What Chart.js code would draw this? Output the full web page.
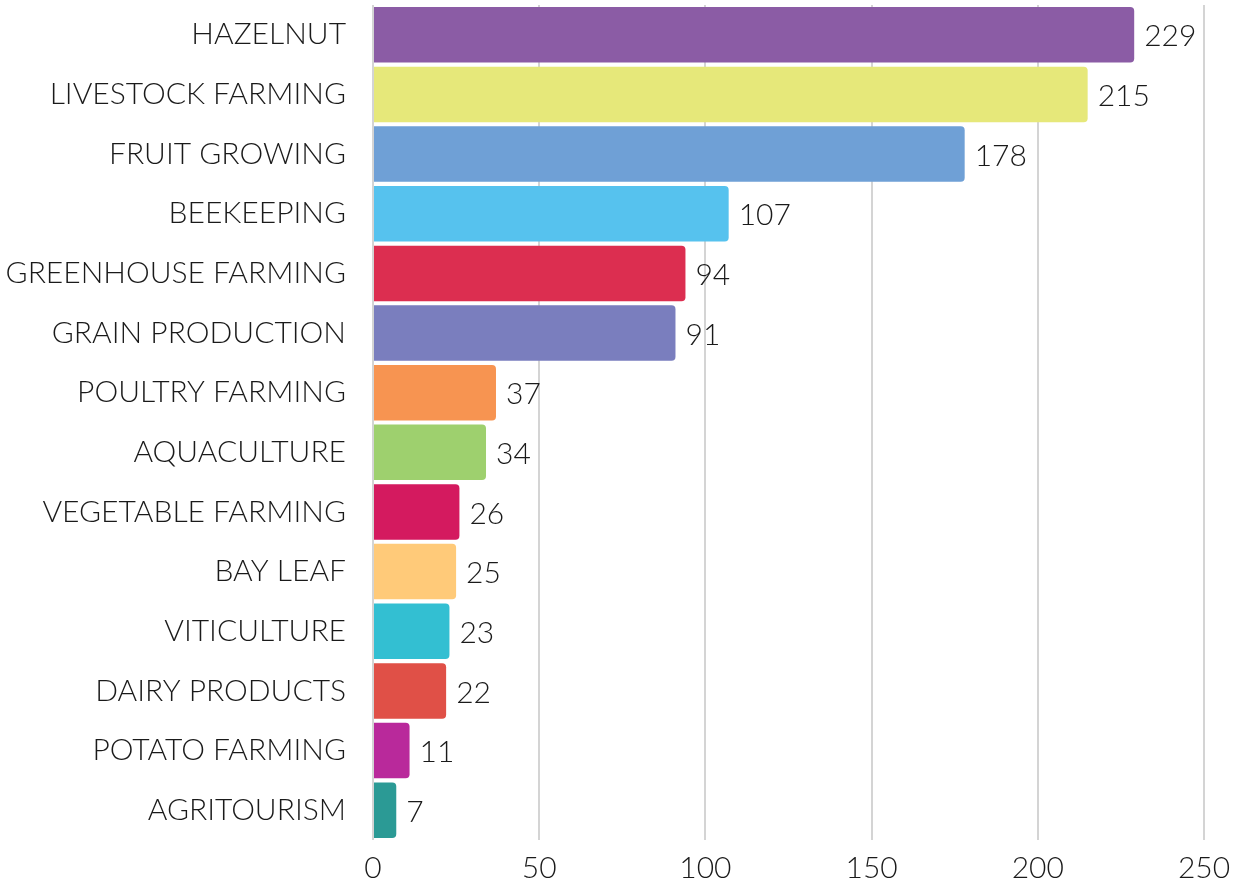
<!DOCTYPE html>
<html>
<head>
<meta charset="utf-8">
<script src="https://cdn.jsdelivr.net/npm/chart.js@4/dist/chart.umd.min.js"></script>
<style>
  html, body { margin: 0; padding: 0; background: #fff; }
  #wrap { width: 1234px; height: 885px; }
</style>
</head>
<body>
<div id="wrap"><canvas id="sectorChart"></canvas></div>
<script>
const categories = ['HAZELNUT', 'LIVESTOCK FARMING', 'FRUIT GROWING', 'BEEKEEPING', 'GREENHOUSE FARMING',
    'GRAIN PRODUCTION', 'POULTRY FARMING', 'AQUACULTURE', 'VEGETABLE FARMING', 'BAY LEAF',
    'VITICULTURE', 'DAIRY PRODUCTS', 'POTATO FARMING', 'AGRITOURISM'];
const counts = [229, 215, 178, 107, 94, 91, 37, 34, 26, 25, 23, 22, 11, 7];
const barColors = ['#8b5ca5', '#e6e87a', '#6fa0d6', '#56c2ee', '#dc2e50', '#7a7ebe', '#f79451',
    '#9ed06e', '#d41a5f', '#ffca79', '#33bfd2', '#e05047', '#b9299b', '#2b9a95'];
const xTicks = [0, 50, 100, 150, 200, 250];

const fontFamily = "Lato, 'DejaVu Sans', sans-serif";

// angka di ujung batang
const valueLabels = {
    id: 'valueLabels',
    afterDatasetsDraw(chart) {
        const ctx = chart.ctx;
        const meta = chart.getDatasetMeta(0);
        ctx.save();
        ctx.font = '300 30px ' + fontFamily;
        ctx.fillStyle = '#1a1a1a';
        ctx.textAlign = 'left';
        ctx.textBaseline = 'middle';
        meta.data.forEach((bar, i) => {
            ctx.fillText(String(counts[i]), bar.x + 10, bar.y + 2);
        });
        ctx.restore();
    }
};

new Chart(document.getElementById('sectorChart').getContext('2d'), {
    type: 'bar',
    data: {
        labels: categories,
        datasets: [{
            data: counts,
            backgroundColor: barColors,
            borderRadius: 4,
            borderSkipped: 'start',
            barPercentage: 0.93,
            categoryPercentage: 1
        }]
    },
    options: {
        indexAxis: 'y',
        responsive: true,
        maintainAspectRatio: false,
        animation: false,
        layout: { padding: { top: 5, right: 30, bottom: 0, left: 0 } },
        plugins: {
            legend: { display: false },
            tooltip: { enabled: false }
        },
        scales: {
            x: {
                min: 0,
                max: 250,
                afterBuildTicks: (axis) => { axis.ticks = xTicks.map(v => ({ value: v })); },
                afterFit: (axis) => {
                    axis.height = 45;
                    axis.paddingLeft = 0;
                    axis.paddingRight = 0;
                },
                grid: { color: '#d4d4d4', lineWidth: 2, drawTicks: false },
                border: { display: false },
                ticks: {
                    padding: 10,
                    color: '#1a1a1a',
                    font: { family: fontFamily, size: 30, weight: '300' }
                }
            },
            y: {
                afterFit: (axis) => {
                    axis.width = 373;
                    axis.paddingTop = 0;
                    axis.paddingBottom = 0;
                },
                grid: { display: false, drawTicks: false },
                border: { display: false },
                ticks: {
                    padding: 27,
                    color: '#1a1a1a',
                    font: { family: fontFamily, size: 30, weight: '300' }
                }
            }
        }
    },
    plugins: [valueLabels]
});
</script>
</body>
</html>
